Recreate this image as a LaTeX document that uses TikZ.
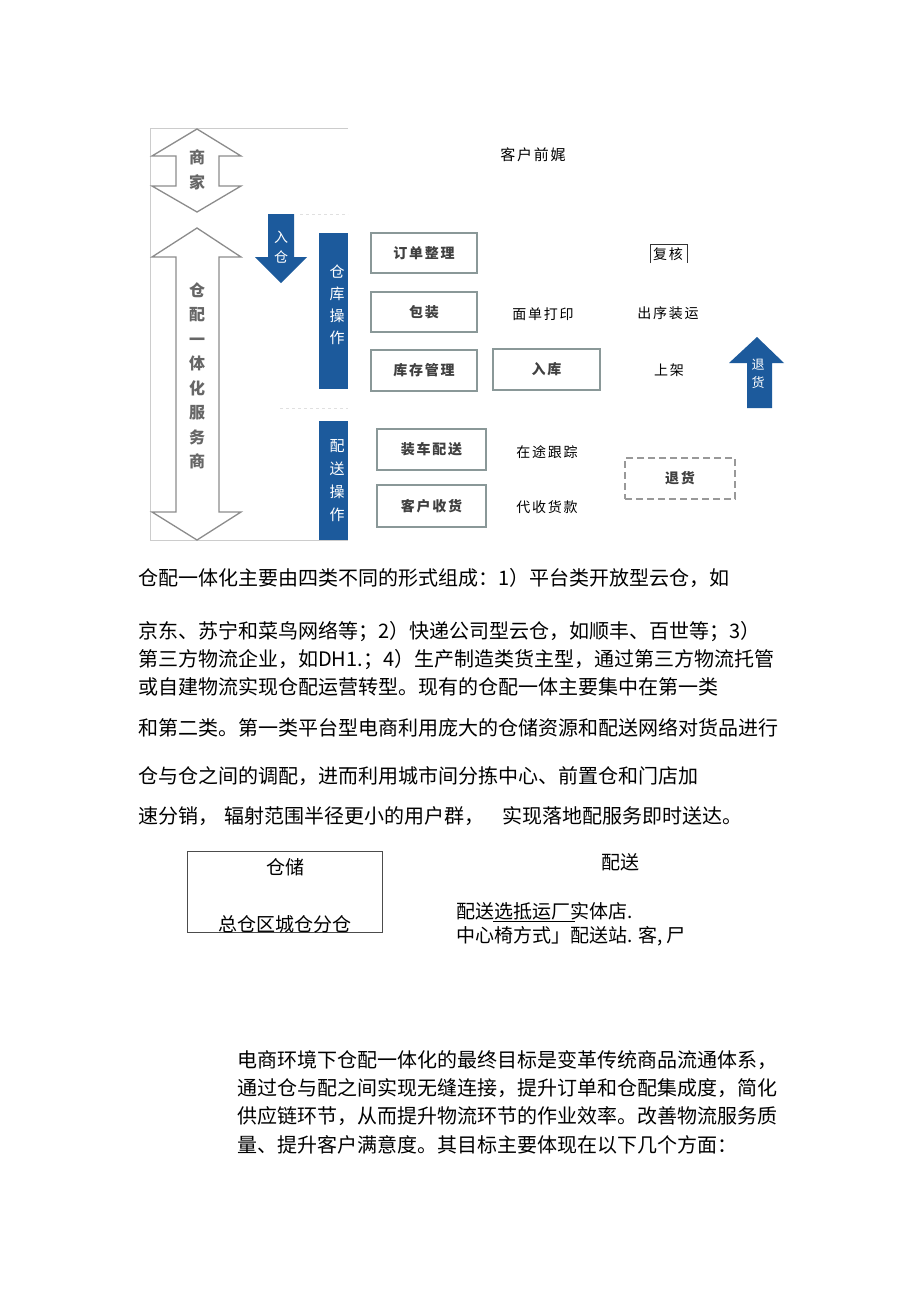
\documentclass[tikz,border=0pt]{standalone}
\usepackage{fontspec}
\setmainfont{Noto Sans CJK SC}
\newfontfamily\cjkls[LetterSpace=12]{Noto Sans CJK SC}
\definecolor{opblue}{HTML}{1C5A9C}
\definecolor{boxgray}{HTML}{8A9898}
\begin{document}
\begin{tikzpicture}[x=1pt,y=-1pt,
  frameline/.style={draw=black!20, line width=1pt},
  faintdash/.style={draw=black!12, line width=1pt, dashed},
  dbarrow/.style={draw=black!45, line width=1.3pt, fill=white},
  bluefill/.style={fill=opblue, draw=none},
  opbox/.style={draw=boxgray, line width=1.8pt, fill=white, inner sep=0pt,
    font=\cjkls\bfseries\fontsize{14}{16}\selectfont, text=black!75},
  dashbox/.style={opbox, draw=black!40, dash pattern=on 7pt off 4pt},
  lbl/.style={font=\cjkls\fontsize{14}{16}\selectfont, inner sep=0pt},
  vgray/.style={align=center, inner sep=0pt, text=black!60, font=\bfseries\fontsize{16}{24.5}\selectfont},
  vwhite/.style={align=center, inner sep=0pt, text=white},
  para/.style={anchor=base west, inner sep=0pt, font=\fontsize{20}{24}\selectfont},
  midtext/.style={inner sep=0pt, font=\fontsize{19}{22}\selectfont}
]
\useasboundingbox (0,0) rectangle (920,1301);
\fill[white] (0,0) rectangle (920,1301);

% frame of the left figure
\draw[frameline] (348,128) -- (150,128) -- (150,540) -- (348,540);
\draw[faintdash] (300,214) -- (348,214);
\draw[faintdash] (280,408) -- (348,408);

% double arrows
\draw[dbarrow] (197,129) -- (241,156) -- (219,156) -- (219,186) -- (241,186) -- (197,212)
  -- (152,186) -- (176,186) -- (176,156) -- (152,156) -- cycle;
\node[vgray] (shangjia) at (197,170) {商\\家};

\draw[dbarrow] (197,228) -- (241,257) -- (219,257) -- (219,512) -- (241,512) -- (197,540)
  -- (152,512) -- (176,512) -- (176,257) -- (152,257) -- cycle;
\node[vgray] (fuwushang) at (197,376) {仓\\配\\一\\体\\化\\服\\务\\商};

% blue down arrow
\fill[bluefill] (268,214) -- (294,214) -- (294,257) -- (307,257) -- (281,283) -- (255,257) -- (268,257) -- cycle;
\node[vwhite, font=\fontsize{14}{20}\selectfont] (rucang) at (281,247) {入\\仓};

% blue bars
\fill[bluefill] (319,233) rectangle (348,389);
\node[vwhite, font=\fontsize{15}{22}\selectfont] (cangku) at (337,305) {仓\\库\\操\\作};
\fill[bluefill] (319,421) rectangle (348,540);
\node[vwhite, font=\fontsize{15}{23}\selectfont] (peisong) at (337,480.5) {配\\送\\操\\作};

% blue up arrow
\fill[bluefill] (757,337) -- (784,363) -- (772,363) -- (772,408) -- (747,408) -- (747,363) -- (729,363) -- cycle;
\node[vwhite, font=\fontsize{13}{18}\selectfont] (tuihuoarrow) at (758,374) {退\\货};

% operation boxes
\node[opbox, minimum width=106pt, minimum height=40pt] (dingdan) at (424,253) {订单整理};
\node[opbox, minimum width=106pt, minimum height=40pt] (baozhuang) at (424,312) {包装};
\node[opbox, minimum width=106pt, minimum height=41pt] (kucun) at (424,370.5) {库存管理};
\node[opbox, minimum width=107pt, minimum height=41pt] (ruku) at (546.5,369.5) {入库};
\node[opbox, minimum width=109pt, minimum height=41pt] (zhuangche) at (431.5,449.5) {装车配送};
\node[opbox, minimum width=109pt, minimum height=42pt] (shouhuo) at (431.5,506) {客户收货};
\node[dashbox, minimum width=110pt, minimum height=41pt] (tuihuo) at (680,478.5) {退货};

% plain labels
\node[lbl, font=\cjkls\fontsize{15}{17}\selectfont] (kehuqian) at (533,155) {客户前娓};
\node[lbl] (fuhe) at (668,254) {复核};
\draw[black!80, line width=0.8pt] (650,263) -- (650,244) -- (687,244) -- (687,263);
\node[lbl] (miandan) at (543,314) {面单打印};
\node[lbl] (chuxu) at (668,313) {出序装运};
\node[lbl] (shangjia2) at (669,370) {上架};
\node[lbl] (zaitu) at (547,452) {在途跟踪};
\node[lbl] (daishou) at (547,507) {代收货款};

% first paragraph
\node[para] (p1) at (138,585.6) {仓配一体化主要由四类不同的形式组成：1）平台类开放型云仓，如};
\node[para] (p2) at (138,638.6) {京东、苏宁和菜鸟网络等；2）快递公司型云仓，如顺丰、百世等；3）};
\node[para] (p3) at (138,666.6) {第三方物流企业，如DH1.；4）生产制造类货主型，通过第三方物流托管};
\node[para] (p4) at (138,694.6) {或自建物流实现仓配运营转型。现有的仓配一体主要集中在第一类};
\node[para] (p5) at (138,735.6) {和第二类。第一类平台型电商利用庞大的仓储资源和配送网络对货品进行};
\node[para] (p6) at (138,783.6) {仓与仓之间的调配，进而利用城市间分拣中心、前置仓和门店加};
\node[para] (p7) at (138,823.6) {速分销，\hspace{6pt}辐射范围半径更小的用户群，\hspace{18pt}实现落地配服务即时送达。};

% middle section
\draw[black!70, line width=0.8pt] (187,851) rectangle (382,932);
\node[midtext] (cangchu) at (285,867) {仓储};
\node[midtext] (zongcang) at (285,924) {总仓区城仓分仓};
\node[midtext] (peisongt) at (620,862) {配送};
\node[midtext, anchor=west] (ps1) at (456,911) {配送选抵运厂实体店.};
\node[midtext, anchor=west] (ps2) at (456,936) {中心椅方式」配送站. 客, 尸};
\draw[black, line width=0.7pt] (493,921) -- (575,921);

% last paragraph
\node[para] (q1) at (237,1067.6) {电商环境下仓配一体化的最终目标是变革传统商品流通体系，};
\node[para] (q2) at (237,1095.6) {通过仓与配之间实现无缝连接，提升订单和仓配集成度，简化};
\node[para] (q3) at (237,1123.6) {供应链环节，从而提升物流环节的作业效率。改善物流服务质};
\node[para] (q4) at (237,1152.6) {量、提升客户满意度。其目标主要体现在以下几个方面：};
\end{tikzpicture}
\end{document}
